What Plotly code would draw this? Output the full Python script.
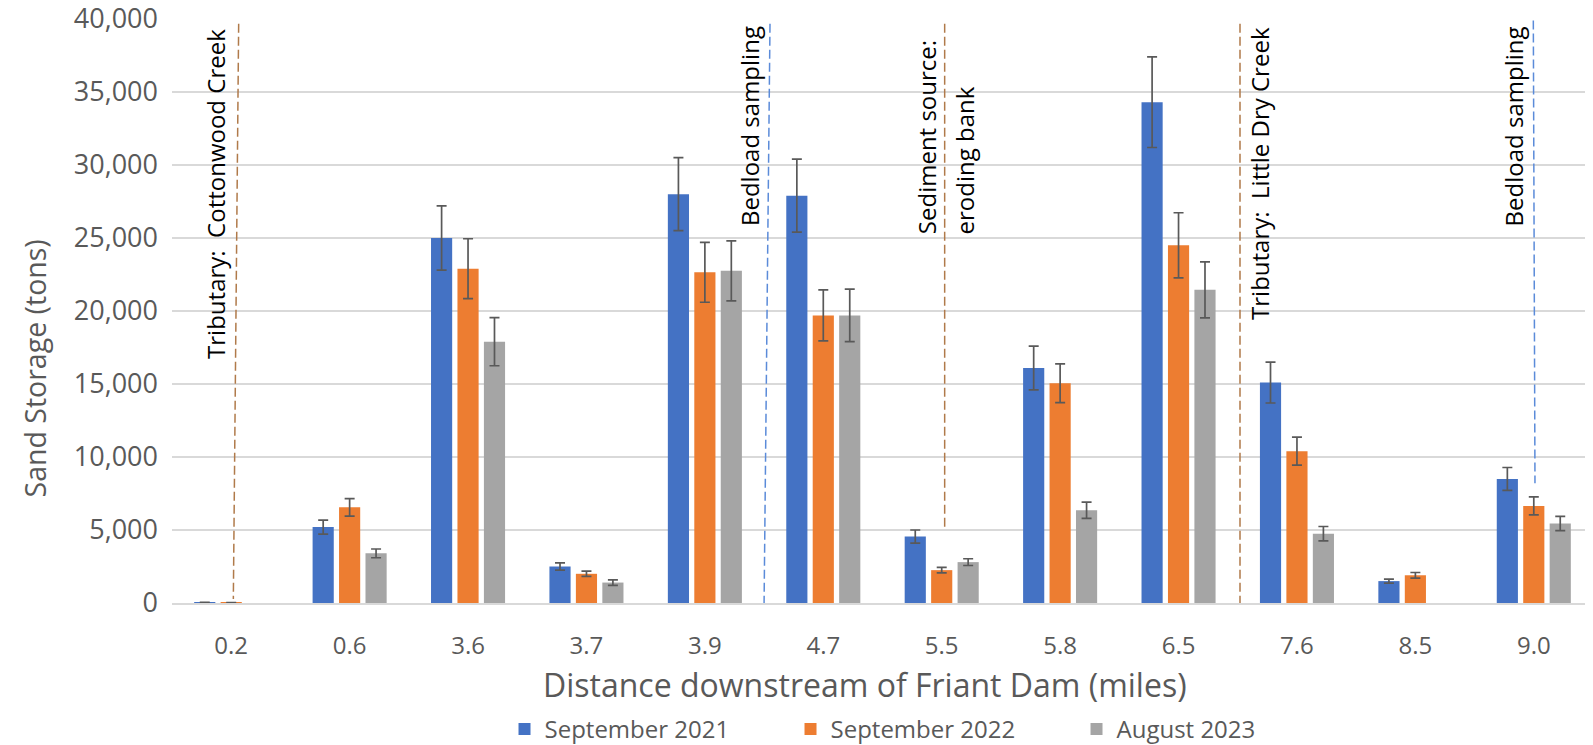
import plotly.graph_objects as go

# ---- data ----
categories = ["0.2", "0.6", "3.6", "3.7", "3.9", "4.7", "5.5", "5.8", "6.5", "7.6", "8.5", "9.0"]
sep2021 = [40, 5200, 25000, 2500, 28000, 27900, 4550, 16100, 34300, 15100, 1500, 8500]
sep2022 = [30, 6550, 22900, 2000, 22650, 19700, 2250, 15050, 24500, 10400, 1900, 6650]
aug2023 = [None, 3400, 17900, 1400, 22750, 19700, 2800, 6350, 21450, 4750, None, 5450]
err2021 = [None, 480, 2200, 250, 2500, 2500, 450, 1500, 3100, 1400, 135, 780]
err2022 = [None, 600, 2050, 180, 2050, 1750, 190, 1330, 2230, 960, 190, 620]
err2023 = [None, 300, 1650, 190, 2050, 1800, 230, 560, 1920, 490, None, 490]
series_names = ["September 2021", "September 2022", "August 2023"]
y_ticks = [0, 5000, 10000, 15000, 20000, 25000, 30000, 35000, 40000]

# reference markers: (x_top, y_top, x_bottom, y_bottom, kind) in category-index / tons
marker_lines = [
    (0.063, 39680, 0.018, 270, "trib"),
    (4.55, 39680, 4.50, 0, "bed"),
    (6.025, 39680, 6.025, 5010, "trib"),
    (8.519, 39680, 8.519, 0, "trib"),
    (10.996, 39900, 11.01, 8200, "bed"),
]
# (text, x, y, yanchor)
marker_labels = [
    ("Tributary:  Cottonwood Creek", -0.127, 39470, "top"),
    ("Bedload sampling", 4.372, 39650, "top"),
    ("Sediment source:", 5.874, 25110, "bottom"),
    ("eroding bank", 6.189, 25110, "bottom"),
    ("Tributary:  Little Dry Creek", 8.682, 39580, "top"),
    ("Bedload sampling", 10.827, 39650, "top"),
]

colors = ["#4472C4", "#ED7D31", "#A5A5A5"]
line_colors = {"trib": "#B07A4A", "bed": "#5B8BD9"}
FONT = "Open Sans"
GREY_TXT = "#595959"

fig = go.Figure()
for name, vals, errs, col in zip(series_names, [sep2021, sep2022, aug2023],
                                 [err2021, err2022, err2023], colors):
    fig.add_trace(go.Bar(
        x=categories, y=vals, name=name,
        marker=dict(color=col, line=dict(width=0)),
        error_y=dict(type="data", array=errs, visible=True,
                     color="#595959", thickness=1.7, width=5),
    ))

for x0, y0, x1, y1, kind in marker_lines:
    fig.add_shape(type="line", xref="x", yref="y", x0=x0, y0=y0, x1=x1, y1=y1,
                  line=dict(color=line_colors[kind], width=1.5, dash="9px,4px"))

for text, x, y, ya in marker_labels:
    fig.add_annotation(text=text, x=x, y=y, xref="x", yref="y", showarrow=False,
                       textangle=-90, xanchor="center", yanchor=ya,
                       font=dict(family=FONT, size=24, color="black"))

# axis titles
fig.add_annotation(text="Distance downstream of Friant Dam (miles)", xref="paper", yref="paper",
                   x=0.4876, y=-0.139, xanchor="center", yanchor="middle", showarrow=False,
                   font=dict(family=FONT, size=32, color=GREY_TXT))
fig.add_annotation(text="Sand Storage (tons)", xref="paper", yref="paper",
                   x=-0.0961, y=0.4023, xanchor="center", yanchor="middle", showarrow=False,
                   textangle=-90, font=dict(family=FONT, size=28.5, color=GREY_TXT))

# the page body adds an 8px offset, so the figure is 8px smaller than the window
fig.update_layout(
    width=1585, height=737,
    margin=dict(l=164, r=0, t=11, b=142, autoexpand=False),
    paper_bgcolor="white", plot_bgcolor="white",
    barmode="group", bargap=0.33, bargroupgap=0.2,
    font=dict(family=FONT, color=GREY_TXT),
    showlegend=True,
    legend=dict(orientation="h", x=0.234, xanchor="left", y=-0.2166, yanchor="middle",
                font=dict(family=FONT, size=24, color=GREY_TXT),
                entrywidth=241, entrywidthmode="pixels",
                bgcolor="rgba(0,0,0,0)"),
    xaxis=dict(type="category", range=[-0.5, 11.5], showgrid=False, zeroline=False,
               showline=True, linecolor="#D9D9D9", linewidth=1.5, ticks="",
               tickfont=dict(family=FONT, size=24, color=GREY_TXT),
               ticklabelstandoff=20),
    yaxis=dict(range=[0, 40000], tickvals=y_ticks, tickformat=",",
               showgrid=True, gridcolor="#D9D9D9", gridwidth=1.5, zeroline=False,
               ticks="", tickfont=dict(family=FONT, size=27, color=GREY_TXT),
               ticklabelstandoff=13, ticklabeloverflow="allow"),
)

fig.write_html("out.html")
